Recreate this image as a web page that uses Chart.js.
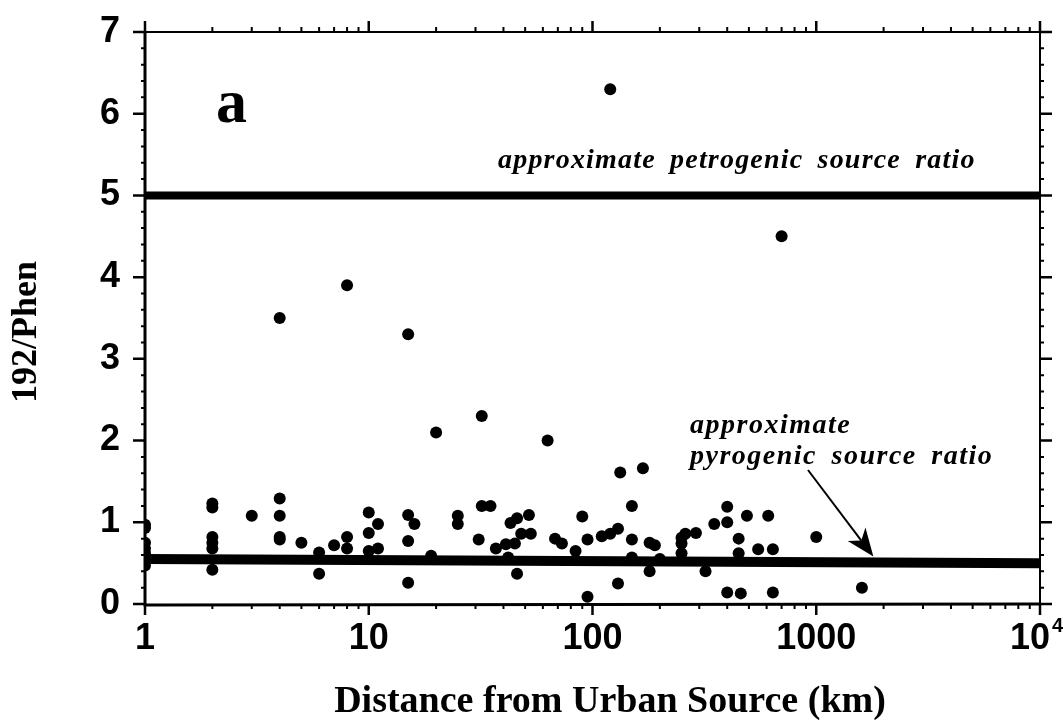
<!DOCTYPE html>
<html>
<head>
<meta charset="utf-8">
<title>192/Phen</title>
<script src="https://cdn.jsdelivr.net/npm/chart.js@4.4.0/dist/chart.umd.min.js"></script>
<style>
  html, body { margin: 0; padding: 0; background: #fff; }
  canvas { display: block; }
</style>
</head>
<body>
<canvas id="graficoRapporto" width="1063" height="723"></canvas>
<script>
// distanza dalla sorgente urbana (km) e rapporto 192/Phen per ogni campione
let distanze = [
    1, 1, 1, 1, 1, 1, 1, 1,
    2, 2, 2, 2, 2, 2,
    3,
    4, 4, 4, 4, 4,
    5,
    6, 6,
    7,
    8, 8, 8,
    10, 10, 10,
    11, 11,
    15, 15, 15, 15,
    16, 19, 20,
    25, 25,
    31, 32, 32, 35, 37, 41, 42, 43, 45, 46, 46, 48, 52, 53,
    63, 68, 73, 84, 90, 95, 95,
    110, 120, 120, 130, 130, 133,
    150, 150, 150, 168, 180, 180, 190, 200,
    250, 250, 250, 260, 290, 320, 350,
    400, 400, 400, 450, 450, 460, 490,
    550, 610, 640, 640, 700,
    1000, 1600
];
let rapporti = [
    0.97, 0.93, 0.75, 0.68, 0.62, 0.57, 0.52, 0.47,
    1.23, 1.18, 0.82, 0.75, 0.68, 0.42,
    1.08,
    3.5, 1.29, 1.08, 0.82, 0.79,
    0.75,
    0.63, 0.37,
    0.72,
    3.9, 0.82, 0.68,
    1.12, 0.87, 0.65,
    0.98, 0.68,
    3.3, 1.09, 0.77, 0.26,
    0.98, 0.59, 2.1,
    1.08, 0.98,
    0.79, 2.3, 1.2, 1.2, 0.68, 0.73, 0.57, 0.99, 0.74, 1.05, 0.37, 0.86, 1.09, 0.86,
    2.0, 0.8, 0.74, 0.65, 1.07, 0.79, 0.09,
    0.83, 6.3, 0.86, 0.92, 0.25, 1.61,
    1.2, 0.79, 0.57, 1.66, 0.75, 0.4, 0.72, 0.55,
    0.81, 0.74, 0.62, 0.86, 0.87, 0.4, 0.98,
    1.19, 1.0, 0.14, 0.8, 0.62, 0.13, 1.08,
    0.67, 1.08, 0.67, 0.14, 4.5,
    0.82, 0.2
];

// rapporti di riferimento delle sorgenti
let rapportoPetrogenico = [5.0, 5.0];
let rapportoPirogenico = [0.55, 0.5];
let estremiDistanza = [1, 10000];

// etichette degli assi (10^4 si scrive a parte, con l'esponente in apice)
let etichetteX = { 1: '1', 10: '10', 100: '100', 1000: '1000', 10000: '' };
let ultimaBase = '10';
let ultimoEsponente = '4';
let etichetteY = [0, 1, 2, 3, 4, 5, 6, 7];

const fontNumeri = '"Liberation Sans Narrow", "Liberation Sans", Arial, sans-serif';
const fontSerif = '"Liberation Serif", "Times New Roman", serif';

function tacchePerDecade() {
    let valori = [];
    for (let dec = 1; dec < 10000; dec *= 10) {
        for (let k = 1; k < 10; k++) valori.push(dec * k);
    }
    valori.push(10000);
    return valori;
}

// niente spazio extra per le etichette che sporgono
function senzaSporgenze(s) {
    s.paddingLeft = 0;
    s.paddingRight = 0;
    s.paddingTop = 0;
    s.paddingBottom = 0;
}

// cornice, tacche, titoli e annotazioni
const cornice = {
    id: 'cornice',
    afterDraw(chart) {
        const ctx = chart.ctx;
        const a = chart.chartArea;
        const sx = chart.scales.x;
        const sy = chart.scales.y;
        ctx.save();
        ctx.strokeStyle = '#000';
        ctx.fillStyle = '#000';
        ctx.lineCap = 'butt';

        // bordi
        ctx.lineWidth = 3;
        ctx.beginPath();
        ctx.moveTo(a.left, a.top - 1);
        ctx.lineTo(a.left, a.bottom + 1);
        ctx.lineTo(a.right + 1, a.bottom);
        ctx.stroke();
        ctx.lineWidth = 2;
        ctx.beginPath();
        ctx.moveTo(a.left, a.top);
        ctx.lineTo(a.right, a.top);
        ctx.lineTo(a.right, a.bottom);
        ctx.stroke();

        // tacche asse x (sotto e sopra)
        tacchePerDecade().forEach(function (v) {
            const px = sx.getPixelForValue(v);
            const maggiore = Math.abs(Math.log10(v) - Math.round(Math.log10(v))) < 1e-9;
            const lung = maggiore ? 11 : 5;
            ctx.lineWidth = maggiore ? 2.5 : 2;
            ctx.beginPath();
            ctx.moveTo(px, a.bottom);
            ctx.lineTo(px, a.bottom + lung);
            ctx.moveTo(px, a.top);
            ctx.lineTo(px, a.top - lung);
            ctx.stroke();
        });

        // tacche asse y (sinistra e destra)
        for (let i = 0; i <= 35; i++) {
            const v = i * 0.2;
            const py = sy.getPixelForValue(v);
            const maggiore = i % 5 === 0;
            const lung = maggiore ? 12 : 4;
            ctx.lineWidth = maggiore ? 2.5 : 2;
            ctx.beginPath();
            ctx.moveTo(a.left, py);
            ctx.lineTo(a.left - lung, py);
            ctx.moveTo(a.right, py);
            ctx.lineTo(a.right + lung, py);
            ctx.stroke();
        }

        // ultima etichetta: 10 con esponente
        const xUltima = sx.getPixelForValue(10000);
        ctx.font = 'bold 36px ' + fontNumeri;
        ctx.textAlign = 'right';
        ctx.textBaseline = 'middle';
        ctx.fillText(ultimaBase, xUltima + 10, a.bottom + 35);
        ctx.font = 'bold 20px ' + fontNumeri;
        ctx.textAlign = 'left';
        ctx.fillText(ultimoEsponente, xUltima + 12, a.bottom + 22);

        // lettera del pannello
        ctx.font = 'bold 62px ' + fontSerif;
        ctx.textBaseline = 'alphabetic';
        ctx.fillText('a', 216, 122);

        // annotazioni dei rapporti di sorgente
        ctx.font = 'italic bold 28px ' + fontSerif;
        ctx.letterSpacing = '1.2px';
        ctx.wordSpacing = '6px';
        ctx.fillText('approximate petrogenic source ratio', 498, 168);
        ctx.letterSpacing = '1.5px';
        ctx.fillText('approximate', 690, 433);
        ctx.fillText('pyrogenic source ratio', 690, 464);
        ctx.letterSpacing = '0px';
        ctx.wordSpacing = '0px';

        // freccia verso la linea pirogenica
        const punta = { x: sx.getPixelForValue(1800), y: sy.getPixelForValue(0.52) - 5 };
        const coda = { x: 808, y: 470 };
        const ang = Math.atan2(punta.y - coda.y, punta.x - coda.x);
        ctx.lineWidth = 2;
        ctx.beginPath();
        ctx.moveTo(coda.x, coda.y);
        ctx.lineTo(punta.x - 20 * Math.cos(ang), punta.y - 20 * Math.sin(ang));
        ctx.stroke();
        ctx.beginPath();
        ctx.moveTo(punta.x, punta.y);
        ctx.lineTo(punta.x - 30 * Math.cos(ang - 0.38), punta.y - 30 * Math.sin(ang - 0.38));
        ctx.lineTo(punta.x - 20 * Math.cos(ang), punta.y - 20 * Math.sin(ang));
        ctx.lineTo(punta.x - 30 * Math.cos(ang + 0.38), punta.y - 30 * Math.sin(ang + 0.38));
        ctx.closePath();
        ctx.fill();

        // titoli degli assi
        ctx.font = 'bold 38px ' + fontSerif;
        ctx.textAlign = 'center';
        ctx.textBaseline = 'middle';
        ctx.fillText('Distance from Urban Source (km)', 610, 702);
        ctx.save();
        ctx.translate(27, 332);
        ctx.rotate(-Math.PI / 2);
        ctx.font = 'bold 36px ' + fontSerif;
        ctx.fillText('192/Phen', 0, 0);
        ctx.restore();

        ctx.restore();
    }
};

function disegnaGrafico() {
    const ctx = document.getElementById('graficoRapporto');
    const punti = distanze.map(function (d, i) { return { x: d, y: rapporti[i] }; });

    new Chart(ctx, {
        type: 'scatter',
        data: {
            datasets: [{
                label: '192/Phen',
                data: punti,
                pointRadius: 6,
                pointHoverRadius: 6,
                backgroundColor: '#000',
                borderWidth: 0
            }, {
                type: 'line',
                label: 'petrogenic',
                data: estremiDistanza.map(function (d, i) { return { x: d, y: rapportoPetrogenico[i] }; }),
                borderColor: '#000',
                borderWidth: 8,
                pointRadius: 0,
                fill: false
            }, {
                type: 'line',
                label: 'pyrogenic',
                data: estremiDistanza.map(function (d, i) { return { x: d, y: rapportoPirogenico[i] }; }),
                borderColor: '#000',
                borderWidth: 10,
                pointRadius: 0,
                fill: false
            }]
        },
        options: {
            responsive: false,
            animation: false,
            devicePixelRatio: 1,
            layout: { padding: { left: 0, right: 23, top: 32, bottom: 0 } },
            plugins: {
                legend: { display: false },
                tooltip: { enabled: false }
            },
            scales: {
                x: {
                    type: 'logarithmic',
                    position: 'bottom',
                    min: 1,
                    max: 10000,
                    afterFit: function (s) { s.height = 119; senzaSporgenze(s); },
                    afterBuildTicks: function (s) {
                        s.ticks = Object.keys(etichetteX).map(function (k) { return { value: Number(k) }; });
                    },
                    grid: { display: false, drawTicks: false },
                    border: { display: false },
                    ticks: {
                        autoSkip: false,
                        maxRotation: 0,
                        padding: 13,
                        color: '#000',
                        font: { family: fontNumeri, size: 36, weight: 'bold' },
                        callback: function (value) { return etichetteX[value] || ''; }
                    }
                },
                y: {
                    min: 0,
                    max: 7,
                    afterFit: function (s) { s.width = 145; senzaSporgenze(s); },
                    afterBuildTicks: function (s) {
                        s.ticks = etichetteY.map(function (v) { return { value: v }; });
                    },
                    grid: { display: false, drawTicks: false },
                    border: { display: false },
                    ticks: {
                        padding: 25,
                        color: '#000',
                        font: { family: fontNumeri, size: 36, weight: 'bold' }
                    }
                }
            }
        },
        plugins: [cornice]
    });
}

disegnaGrafico();
</script>
</body>
</html>
